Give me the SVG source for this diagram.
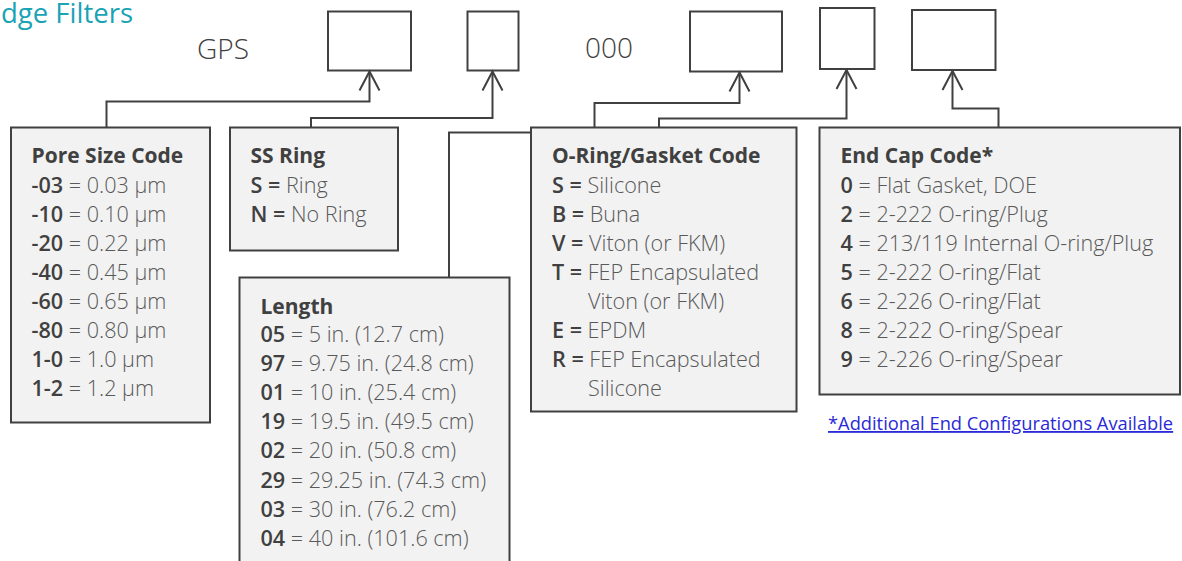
<svg xmlns="http://www.w3.org/2000/svg" width="1182" height="561" viewBox="0 0 1182 561">
<defs>
<style>
text{font-family:"Open Sans","Noto Sans","Liberation Sans",sans-serif;}
.slot{fill:#ffffff;stroke:#404040;stroke-width:2;}
.box{fill:#f2f2f2;stroke:#404040;stroke-width:2;}
.t{font-size:21px;font-weight:700;fill:#404040;}
.l{font-size:21.6px;font-weight:300;fill:#595959;}
.c{font-weight:600;fill:#404040;}
.big{font-size:28px;font-weight:300;fill:#404040;}
.conn{fill:none;stroke:#404040;stroke-width:2;}
</style>
<marker id="arr" markerUnits="userSpaceOnUse" orient="auto" refX="0" refY="0" markerWidth="30" markerHeight="30" overflow="visible">
<path d="M-19,-10 L0,0 L-19,10" fill="none" stroke="#404040" stroke-width="2"/>
</marker>
</defs>
<rect width="1182" height="561" fill="#ffffff"/>
<text x="1" y="23" font-size="27.5" fill="#19a3b5">dge Filters</text>

<g id="code">
<text class="big" x="197" y="59">GPS</text>
<text class="big" x="585" y="58">000</text>
<rect id="slot1" class="slot" x="328" y="11.5" width="83" height="59"/>
<rect id="slot2" class="slot" x="467.5" y="11.5" width="51" height="59"/>
<rect id="slot3" class="slot" x="690" y="11.5" width="92" height="60"/>
<rect id="slot4" class="slot" x="820" y="8" width="54.5" height="61"/>
<rect id="slot5" class="slot" x="912" y="10" width="83.5" height="60"/>
</g>

<g id="connectors" class="conn">
<polyline points="106.5,127.5 106.5,101.5 369.5,101.5 369.5,71.5" marker-end="url(#arr)"/>
<polyline points="311,127.5 311,118 492.5,118 492.5,71.5" marker-end="url(#arr)"/>
<polyline points="449,277.5 449,132.5 594.5,132.5 594.5,103 739.5,103 739.5,72.5" marker-end="url(#arr)"/>
<polyline points="659,127.5 659,118.5 846.5,118.5 846.5,70" marker-end="url(#arr)"/>
<polyline points="998.5,127.5 998.5,108.5 952.5,108.5 952.5,71" marker-end="url(#arr)"/>
</g>

<g id="pore">
<rect class="box" x="11" y="127.5" width="199" height="295"/>
<text class="t" x="31.5" y="163">Pore Size Code</text>
<text class="l" x="31.5" y="193"><tspan class="c">-03</tspan> = 0.03 µm</text>
<text class="l" x="31.5" y="222"><tspan class="c">-10</tspan> = 0.10 µm</text>
<text class="l" x="31.5" y="251"><tspan class="c">-20</tspan> = 0.22 µm</text>
<text class="l" x="31.5" y="280"><tspan class="c">-40</tspan> = 0.45 µm</text>
<text class="l" x="31.5" y="309"><tspan class="c">-60</tspan> = 0.65 µm</text>
<text class="l" x="31.5" y="338"><tspan class="c">-80</tspan> = 0.80 µm</text>
<text class="l" x="31.5" y="367"><tspan class="c">1-0</tspan> = 1.0 µm</text>
<text class="l" x="31.5" y="396"><tspan class="c">1-2</tspan> = 1.2 µm</text>
</g>

<g id="ssring">
<rect class="box" x="230" y="127.5" width="168" height="123"/>
<text class="t" x="250.5" y="163">SS Ring</text>
<text class="l" x="250.5" y="193"><tspan class="c">S =</tspan> Ring</text>
<text class="l" x="250.5" y="222"><tspan class="c">N =</tspan> No Ring</text>
</g>

<g id="length">
<rect class="box" x="239.5" y="277.5" width="270" height="300"/>
<text class="t" x="260.5" y="313.5">Length</text>
<text class="l" x="260.5" y="342"><tspan class="c">05</tspan> = 5 in. (12.7 cm)</text>
<text class="l" x="260.5" y="371"><tspan class="c">97</tspan> = 9.75 in. (24.8 cm)</text>
<text class="l" x="260.5" y="400"><tspan class="c">01</tspan> = 10 in. (25.4 cm)</text>
<text class="l" x="260.5" y="429"><tspan class="c">19</tspan> = 19.5 in. (49.5 cm)</text>
<text class="l" x="260.5" y="458"><tspan class="c">02</tspan> = 20 in. (50.8 cm)</text>
<text class="l" x="260.5" y="487.5"><tspan class="c">29</tspan> = 29.25 in. (74.3 cm)</text>
<text class="l" x="260.5" y="516.5"><tspan class="c">03</tspan> = 30 in. (76.2 cm)</text>
<text class="l" x="260.5" y="546"><tspan class="c">04</tspan> = 40 in. (101.6 cm)</text>
</g>

<g id="oring">
<rect class="box" x="531" y="127.5" width="265.5" height="284"/>
<text class="t" x="552" y="163">O-Ring/Gasket Code</text>
<text class="l" x="552" y="193"><tspan class="c">S =</tspan> Silicone</text>
<text class="l" x="552" y="222"><tspan class="c">B =</tspan> Buna</text>
<text class="l" x="552" y="251"><tspan class="c">V =</tspan> Viton (or FKM)</text>
<text class="l" x="552" y="280"><tspan class="c">T =</tspan> FEP Encapsulated</text>
<text class="l" x="588" y="309">Viton (or FKM)</text>
<text class="l" x="552" y="338"><tspan class="c">E =</tspan> EPDM</text>
<text class="l" x="552" y="367"><tspan class="c">R =</tspan> FEP Encapsulated</text>
<text class="l" x="588" y="396">Silicone</text>
</g>

<g id="endcap">
<rect class="box" x="819.5" y="127.5" width="360.5" height="267"/>
<text class="t" x="840.5" y="163">End Cap Code*</text>
<text class="l" x="840.5" y="193"><tspan class="c">0</tspan> = Flat Gasket, DOE</text>
<text class="l" x="840.5" y="222"><tspan class="c">2</tspan> = 2-222 O-ring/Plug</text>
<text class="l" x="840.5" y="251"><tspan class="c">4</tspan> = 213/119 Internal O-ring/Plug</text>
<text class="l" x="840.5" y="280"><tspan class="c">5</tspan> = 2-222 O-ring/Flat</text>
<text class="l" x="840.5" y="309"><tspan class="c">6</tspan> = 2-226 O-ring/Flat</text>
<text class="l" x="840.5" y="338"><tspan class="c">8</tspan> = 2-222 O-ring/Spear</text>
<text class="l" x="840.5" y="367"><tspan class="c">9</tspan> = 2-226 O-ring/Spear</text>
<text x="828" y="430" font-size="18.3" font-weight="400" fill="#2a2ad6" text-decoration="underline">*Additional End Configurations Available</text>
</g>
</svg>
